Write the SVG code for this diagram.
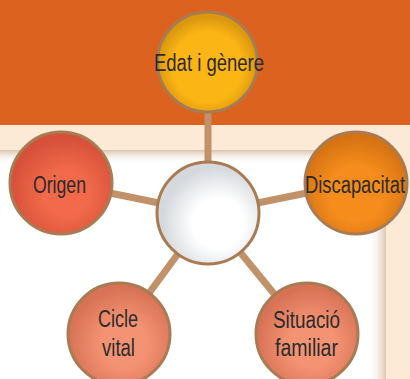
<svg xmlns="http://www.w3.org/2000/svg" width="410" height="379" viewBox="0 0 410 379">
<defs>
<style>
.node{stroke:#A97B52;stroke-width:3}
.lbl{font-family:"Liberation Sans","Arial",sans-serif;font-size:23.5px;fill:#2B2B2B;text-anchor:middle}
.conn{stroke:#C1926A;stroke-width:7;stroke-linecap:butt}
</style>
<radialGradient id="gY" cx="0.5" cy="0.55" r="0.5"><stop offset="0.7" stop-color="#FBB514"/><stop offset="1" stop-color="#DB980F"/></radialGradient>
<radialGradient id="gR" cx="0.55" cy="0.6" r="0.55"><stop offset="0.4" stop-color="#F26A4B"/><stop offset="1" stop-color="#D6503A"/></radialGradient>
<radialGradient id="gO" cx="0.5" cy="0.6" r="0.55"><stop offset="0.5" stop-color="#F58C1C"/><stop offset="1" stop-color="#D57212"/></radialGradient>
<radialGradient id="gS" cx="0.55" cy="0.6" r="0.55"><stop offset="0.4" stop-color="#F49374"/><stop offset="1" stop-color="#D87255"/></radialGradient>
<radialGradient id="gW" cx="0.6" cy="0.6" r="0.55"><stop offset="0.45" stop-color="#FFFFFF"/><stop offset="1" stop-color="#D5D8DC"/></radialGradient>
<linearGradient id="shT" x1="0" y1="0" x2="0" y2="1"><stop offset="0" stop-color="#D9C4AE"/><stop offset="1" stop-color="#FFFFFF" stop-opacity="0"/></linearGradient>
<linearGradient id="shR" x1="0" y1="0" x2="1" y2="0"><stop offset="0" stop-color="#FFFFFF" stop-opacity="0"/><stop offset="1" stop-color="#DCC8B2"/></linearGradient>
</defs>
<rect x="0" y="0" width="410" height="379" fill="#FCEAD6"/>
<rect x="0" y="0" width="410" height="125" fill="#DC6220"/>
<rect x="0" y="150" width="386" height="229" fill="#FFFFFF"/>
<rect x="0" y="150" width="386" height="14" fill="url(#shT)"/>
<rect x="368" y="150" width="18" height="229" fill="url(#shR)"/>
<g id="connectors">
<line class="conn" x1="208" y1="213" x2="208" y2="62"/>
<line class="conn" x1="208" y1="213" x2="61" y2="183"/>
<line class="conn" x1="208" y1="213" x2="356" y2="183"/>
<line class="conn" x1="208" y1="213" x2="119" y2="334"/>
<line class="conn" x1="208" y1="213" x2="307" y2="334"/>
</g>
<g id="center"><circle class="node" cx="208" cy="213" r="51" fill="url(#gW)"/></g>
<g id="edat"><circle class="node" cx="207.5" cy="62" r="50" fill="url(#gY)"/><text class="lbl" x="209" y="71" textLength="110" lengthAdjust="spacingAndGlyphs">Edat i gènere</text></g>
<g id="origen"><circle class="node" cx="61" cy="183" r="51" fill="url(#gR)"/><text class="lbl" x="59.5" y="193" textLength="53" lengthAdjust="spacingAndGlyphs">Origen</text></g>
<g id="discapacitat"><circle class="node" cx="356" cy="183" r="51" fill="url(#gO)"/><text class="lbl" x="355" y="193" textLength="100" lengthAdjust="spacingAndGlyphs">Discapacitat</text></g>
<g id="cicle"><circle class="node" cx="119" cy="334" r="51" fill="url(#gS)"/><text class="lbl" x="118" y="327" textLength="40" lengthAdjust="spacingAndGlyphs">Cicle</text><text class="lbl" x="118.5" y="355.5" textLength="33" lengthAdjust="spacingAndGlyphs">vital</text></g>
<g id="situacio"><circle class="node" cx="307" cy="334" r="51" fill="url(#gS)"/><text class="lbl" x="306.5" y="327.5" textLength="67" lengthAdjust="spacingAndGlyphs">Situació</text><text class="lbl" x="306.5" y="356" textLength="63" lengthAdjust="spacingAndGlyphs">familiar</text></g>
</svg>
